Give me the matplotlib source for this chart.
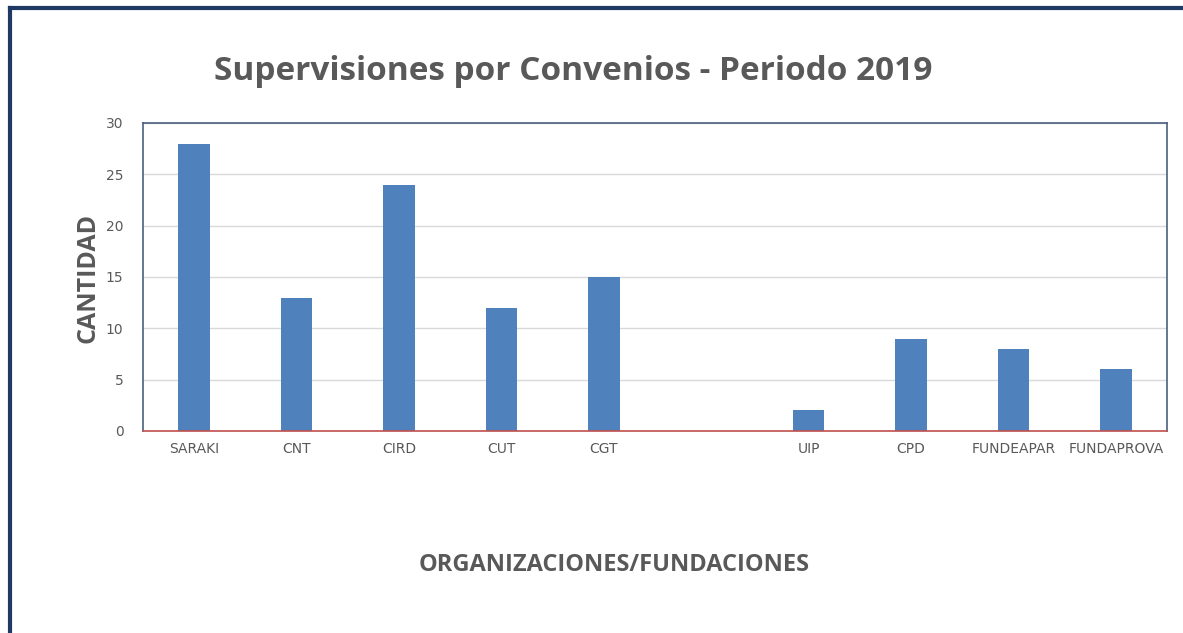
import matplotlib.pyplot as plt
from matplotlib.lines import Line2D
import numpy as np

# datos
organizaciones = ['SARAKI', 'CNT', 'CIRD', 'CUT', 'CGT', '', 'UIP', 'CPD', 'FUNDEAPAR', 'FUNDAPROVA']
cantidad = [28, 13, 24, 12, 15, 0, 2, 9, 8, 6]
yticks = [0, 5, 10, 15, 20, 25, 30]

gris = '#595959'
fig = plt.figure(figsize=(11.83, 6.33), dpi=100)
ax = fig.add_axes([143/1183, 1-431/633, (1167-143)/1183, (431-123)/633])

x = np.arange(len(organizaciones))
ax.bar(x, cantidad, width=0.31, color='#4f81bd', zorder=3)

ax.set_xlim(-0.5, len(organizaciones)-0.5)
ax.set_ylim(0, 30)
ax.set_yticks(yticks)
ax.set_xticks(x)
ax.set_xticklabels(organizaciones)
ax.tick_params(axis='both', length=0, labelsize=10, colors=gris, pad=8)
ax.tick_params(axis='y', pad=14)
ax.yaxis.grid(True, color='#d9d9d9', linewidth=1, zorder=0)

for s in ['left', 'right', 'top']:
    ax.spines[s].set_color('#4a607f')
    ax.spines[s].set_linewidth(1.2)
ax.spines['bottom'].set_color('#c0504d')
ax.spines['bottom'].set_linewidth(1.2)
ax.spines['bottom'].set_zorder(4)

fig.text(573/1183, 1-71/633, 'Supervisiones por Convenios - Periodo 2019', ha='center', va='center',
         fontsize=24, fontweight='bold', color=gris, family='Open Sans')
fig.text(88/1183, 1-278/633, 'CANTIDAD', rotation=90, ha='center', va='center',
         fontsize=18, fontweight='bold', color=gris, family='Open Sans')
fig.text(614/1183, 1-565/633, 'ORGANIZACIONES/FUNDACIONES', ha='center', va='center',
         fontsize=17, fontweight='bold', color=gris, family='Open Sans')

# marco del borde
fig.add_artist(Line2D([10/1183, 10/1183], [0, 1-8/633], transform=fig.transFigure, color='#1f3864', linewidth=3))
fig.add_artist(Line2D([10/1183, 1], [1-8/633, 1-8/633], transform=fig.transFigure, color='#1f3864', linewidth=3))

fig.savefig('out.png', dpi=100)
